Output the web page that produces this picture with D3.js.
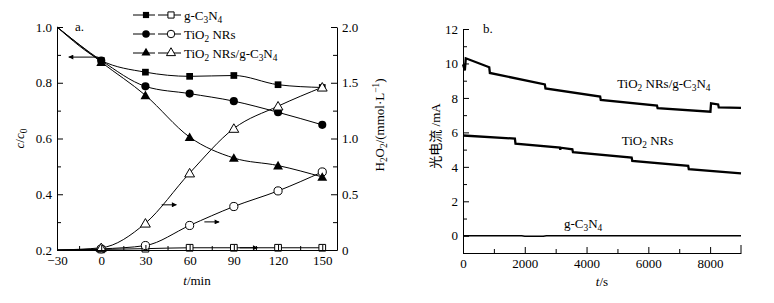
<!DOCTYPE html>
<html>
<head>
<meta charset="utf-8">
<script src="https://cdn.jsdelivr.net/npm/d3@7"></script>
<style>
  body { margin: 0; background: #fff; }
  svg { display: block; }
  text { font-family: "Liberation Serif", "Times New Roman", serif; fill: #000; }
</style>
</head>
<body>
<svg id="chart" width="774" height="303"></svg>
<script>
// ---- data, panel a ----
const times = [-30, 0, 30, 60, 90, 120, 150];
// c/c0 (filled markers, left axis)
const gcnC = [1.0, 0.88, 0.838, 0.823, 0.826, 0.793, 0.783];
const tioC = [1.0, 0.88, 0.787, 0.761, 0.734, 0.694, 0.649];
const compC = [1.0, 0.874, 0.755, 0.605, 0.53, 0.503, 0.462];
// H2O2 mmol/L (open markers, right axis)
const gcnH = [0, 0.005, 0.012, 0.02, 0.02, 0.02, 0.02];
const tioH = [0, 0.01, 0.04, 0.22, 0.39, 0.53, 0.70];
const compH = [0, 0.02, 0.24, 0.69, 1.09, 1.29, 1.46];
const xTicksA = [-30, 0, 30, 60, 90, 120, 150];
const yTicksA = [0.2, 0.4, 0.6, 0.8, 1.0];
const y2TicksA = [0, 0.5, 1.0, 1.5, 2.0];
// arrows: [x1, x2, y] in data units, side = axis they refer to
const arrowsA = [
  { x1: -2, x2: -22, y: 0.892, axis: "left" },
  { x1: 41, x2: 51, y: 0.405, axis: "right" },
  { x1: 70, x2: 80, y: 0.252, axis: "right" },
  { x1: 94, x2: 106, y: 0.02, axis: "right" }
];

// ---- data, panel b (photocurrent, mA vs t/s) ----
const compI = [[0, 9.95], [60, 9.6], [90, 10.3], [850, 9.78], [870, 9.45], [2650, 8.78], [2670, 8.55],
  [4440, 8.08], [4460, 7.88], [6280, 7.55], [6300, 7.4], [8010, 7.2], [8030, 7.68], [8260, 7.62],
  [8280, 7.45], [9000, 7.42]];
const tioI = [[0, 5.82], [1680, 5.64], [1700, 5.35], [3140, 5.12], [3150, 4.98], [3160, 5.11],
  [3540, 5.02], [3560, 4.85], [5460, 4.54], [5480, 4.35], [7290, 4.06], [7310, 3.87], [9000, 3.62]];
const gcnI = [[0, 0], [1900, 0], [2000, -0.03], [2600, -0.03], [2700, 0], [9000, 0]];
const xTicksB = [0, 2000, 4000, 6000, 8000];
const yTicksB = [0, 2, 4, 6, 8, 10, 12];

const svg = d3.select("#chart");
const fs = 13;

// text with subscripts / superscripts / italics
function richText(sel, parts) {
  parts.forEach(([s, kind]) => {
    const t = sel.append("tspan").text(s);
    if (kind === "sub") t.attr("font-size", fs * 0.72).attr("dy", 3);
    if (kind === "sup") t.attr("font-size", fs * 0.72).attr("dy", -5);
    if (kind === "i") t.attr("font-style", "italic");
    if (kind === "back") t.attr("dy", -3);
    if (kind === "down") t.attr("dy", 5);
  });
  return sel;
}

function styleAxis(g) {
  g.selectAll("path, line").attr("stroke", "#000").attr("stroke-width", 1);
  g.selectAll("text").attr("font-size", fs).attr("font-family", "Liberation Serif");
}

// defs: arrowhead
svg.append("defs").append("marker")
  .attr("id", "arr").attr("viewBox", "0 0 10 10").attr("refX", 9).attr("refY", 5)
  .attr("markerWidth", 7).attr("markerHeight", 5).attr("markerUnits", "userSpaceOnUse")
  .attr("orient", "auto")
  .append("path").attr("d", "M0,0L10,5L0,10Z").attr("fill", "#000");

// ================= panel a =================
const A = { left: 57, right: 337, top: 27, bottom: 250 };
const xA = d3.scaleLinear().domain([-30, 160]).range([A.left, A.right]);
const yA = d3.scaleLinear().domain([0.2, 1.0]).range([A.bottom, A.top]);
const y2A = d3.scaleLinear().domain([0, 2.0]).range([A.bottom, A.top]);

const gA = svg.append("g");

const seriesA = [
  { c: gcnC, h: gcnH, sym: d3.symbolSquare, size: 45, name: [["g-C"], ["3", "sub"], ["N", "back"], ["4", "sub"]] },
  { c: tioC, h: tioH, sym: d3.symbolCircle, size: 52, name: [["TiO"], ["2", "sub"], [" NRs", "back"]] },
  { c: compC, h: compH, sym: d3.symbolTriangle, size: 42,
    name: [["TiO"], ["2", "sub"], [" NRs/g-C", "back"], ["3", "sub"], ["N", "back"], ["4", "sub"]] }
];

const lineC = d3.line().x((d, i) => xA(times[i])).y(d => yA(d)).curve(d3.curveMonotoneX);
const lineH = d3.line().x((d, i) => xA(times[i])).y(d => y2A(d)).curve(d3.curveMonotoneX);

seriesA.forEach(s => {
  gA.append("path").attr("d", lineC(s.c)).attr("fill", "none").attr("stroke", "#000").attr("stroke-width", 1);
  gA.append("path").attr("d", lineH(s.h)).attr("fill", "none").attr("stroke", "#000").attr("stroke-width", 1);
});

seriesA.forEach(s => {
  const sym = d3.symbol().type(s.sym).size(s.size);
  const triShift = s.sym === d3.symbolTriangle ? 1 : 0;
  gA.selectAll(null).data(s.h.slice(1)).enter().append("path")
    .attr("d", sym)
    .attr("transform", (d, i) => `translate(${xA(times[i + 1])},${y2A(d) + triShift})`)
    .attr("fill", "#fff").attr("stroke", "#000").attr("stroke-width", 1);
  gA.selectAll(null).data(s.c.slice(1)).enter().append("path")
    .attr("d", sym)
    .attr("transform", (d, i) => `translate(${xA(times[i + 1])},${yA(d) + triShift})`)
    .attr("fill", "#000");
});

// arrows
arrowsA.forEach(a => {
  const yy = a.axis === "left" ? yA(a.y) : y2A(a.y);
  gA.append("line")
    .attr("x1", xA(a.x1)).attr("x2", xA(a.x2)).attr("y1", yy).attr("y2", yy)
    .attr("stroke", "#000").attr("stroke-width", 1).attr("marker-end", "url(#arr)");
});

// axes a
gA.append("g").attr("transform", `translate(0,${A.bottom})`)
  .call(d3.axisBottom(xA).tickValues(xTicksA).tickSize(-5).tickSizeOuter(0).tickPadding(6))
  .call(styleAxis);
gA.append("g").attr("transform", `translate(0,${A.bottom})`)
  .call(d3.axisBottom(xA).tickValues(d3.range(-15, 160, 30)).tickSize(-4).tickFormat(""))
  .call(g => g.select(".domain").remove()).call(styleAxis);
gA.append("g").attr("transform", `translate(${A.left},0)`)
  .call(d3.axisLeft(yA).tickValues(yTicksA).tickSize(-6).tickSizeOuter(0).tickPadding(5).tickFormat(d3.format(".1f")))
  .call(styleAxis);
gA.append("g").attr("transform", `translate(${A.left},0)`)
  .call(d3.axisLeft(yA).tickValues([0.3, 0.5, 0.7, 0.9]).tickSize(-4).tickFormat(""))
  .call(g => g.select(".domain").remove()).call(styleAxis);
gA.append("g").attr("transform", `translate(${A.right},0)`)
  .call(d3.axisRight(y2A).tickValues(y2TicksA).tickSize(-6).tickSizeOuter(0).tickPadding(5)
    .tickFormat(d => d === 0 ? "0" : d3.format(".1f")(d)))
  .call(styleAxis);
gA.append("g").attr("transform", `translate(${A.right},0)`)
  .call(d3.axisRight(y2A).tickValues([0.25, 0.75, 1.25, 1.75]).tickSize(-4).tickFormat(""))
  .call(g => g.select(".domain").remove()).call(styleAxis);

// labels a
gA.append("text").attr("x", 75).attr("y", 31).attr("font-size", fs).text("a.");
richText(gA.append("text").attr("x", (A.left + A.right) / 2).attr("y", 285)
  .attr("text-anchor", "middle").attr("font-size", fs), [["t", "i"], ["/min"]]);
richText(gA.append("text").attr("transform", `translate(24,${(A.top + A.bottom) / 2}) rotate(-90)`)
  .attr("text-anchor", "middle").attr("font-size", fs), [["c", "i"], ["/"], ["c", "i"], ["0", "sub"]]);
richText(gA.append("text").attr("transform", `translate(384,125) rotate(-90)`)
  .attr("text-anchor", "middle").attr("font-size", fs),
  [["H"], ["2", "sub"], ["O", "back"], ["2", "sub"], ["/(mmol·L", "back"], ["−1", "sup"], [")", "down"]]);

// legend a
seriesA.forEach((s, i) => {
  const ly = 15 + i * 19;
  const lg = gA.append("g");
  lg.append("line").attr("x1", 133).attr("x2", 155).attr("y1", ly).attr("y2", ly).attr("stroke", "#000");
  lg.append("line").attr("x1", 158).attr("x2", 181).attr("y1", ly).attr("y2", ly).attr("stroke", "#000");
  lg.append("line").attr("x1", 155).attr("x2", 158).attr("y1", ly).attr("y2", ly).attr("stroke", "#fff");
  const sym = d3.symbol().type(s.sym).size(s.size * 0.85);
  lg.append("path").attr("d", sym).attr("transform", `translate(146,${ly})`).attr("fill", "#000");
  lg.append("path").attr("d", sym).attr("transform", `translate(171,${ly})`).attr("fill", "#fff").attr("stroke", "#000");
  richText(lg.append("text").attr("x", 184).attr("y", ly + 4.5).attr("font-size", fs), s.name);
});

// ================= panel b =================
const B = { left: 463, right: 741, top: 29, bottom: 253 };
const xB = d3.scaleLinear().domain([0, 9000]).range([B.left, B.right]);
const yB = d3.scaleLinear().domain([-1, 12]).range([B.bottom, B.top]);
const gB = svg.append("g");

const lineB = d3.line().x(d => xB(d[0])).y(d => yB(d[1]));
[compI, tioI].forEach(d => {
  gB.append("path").attr("d", lineB(d)).attr("fill", "none").attr("stroke", "#000")
    .attr("stroke-width", 2.3).attr("stroke-linejoin", "miter");
});
gB.append("path").attr("d", lineB(gcnI)).attr("fill", "none").attr("stroke", "#000").attr("stroke-width", 1.4);

gB.append("g").attr("transform", `translate(0,${B.bottom})`)
  .call(d3.axisBottom(xB).tickValues(xTicksB).tickSize(-6).tickSizeOuter(0).tickPadding(6).tickFormat(d3.format("d")))
  .call(styleAxis);
gB.append("g").attr("transform", `translate(0,${B.bottom})`)
  .call(d3.axisBottom(xB).tickValues([1000, 3000, 5000, 7000]).tickSize(-4).tickFormat(""))
  .call(g => g.select(".domain").remove()).call(styleAxis);
gB.append("line").attr("x1", B.right).attr("x2", B.right).attr("y1", B.bottom).attr("y2", B.bottom - 8)
  .attr("stroke", "#000");
gB.append("g").attr("transform", `translate(${B.left},0)`)
  .call(d3.axisLeft(yB).tickValues(yTicksB).tickSize(-6).tickSizeOuter(0).tickPadding(5))
  .call(styleAxis);
gB.append("g").attr("transform", `translate(${B.left},0)`)
  .call(d3.axisLeft(yB).tickValues([-1, 1, 3, 5, 7, 9, 11]).tickSize(-4).tickFormat(""))
  .call(g => g.select(".domain").remove()).call(styleAxis);

gB.append("text").attr("x", 483).attr("y", 33).attr("font-size", fs).text("b.");
richText(gB.append("text").attr("x", (B.left + B.right) / 2).attr("y", 286)
  .attr("text-anchor", "middle").attr("font-size", fs), [["t", "i"], ["/s"]]);
gB.append("text").attr("transform", `translate(440,${(B.top + B.bottom) / 2 - 5}) rotate(-90)`)
  .attr("text-anchor", "middle").attr("font-size", fs)
  .style("font-family", "'Liberation Serif', 'Noto Sans CJK SC'")
  .text("光电流 /mA");

richText(gB.append("text").attr("x", xB(4990)).attr("y", yB(8.58)).attr("font-size", fs),
  [["TiO"], ["2", "sub"], [" NRs/g-C", "back"], ["3", "sub"], ["N", "back"], ["4", "sub"]]);
richText(gB.append("text").attr("x", xB(5140)).attr("y", yB(5.28)).attr("font-size", fs),
  [["TiO"], ["2", "sub"], [" NRs", "back"]]);
richText(gB.append("text").attr("x", xB(3270)).attr("y", yB(0.46)).attr("font-size", fs),
  [["g-C"], ["3", "sub"], ["N", "back"], ["4", "sub"]]);
</script>
</body>
</html>
